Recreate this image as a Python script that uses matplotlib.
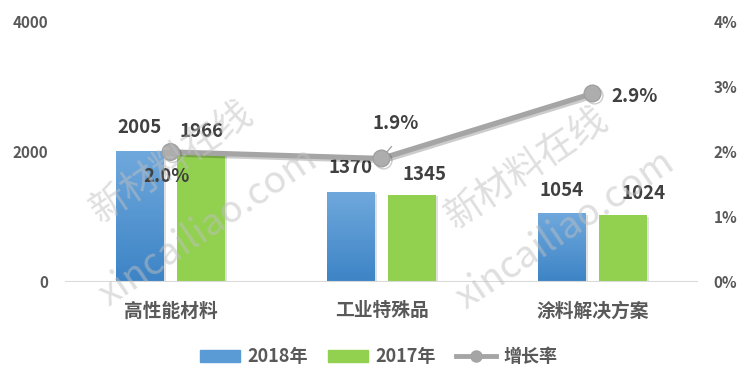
import numpy as np
import matplotlib
matplotlib.use('agg')
import matplotlib.pyplot as plt
from matplotlib import patheffects as pe
from matplotlib.patches import Patch
from matplotlib.lines import Line2D

plt.rcParams['font.family'] = ['Noto Sans CJK SC', 'DejaVu Sans']

categories = ['高性能材料', '工业特殊品', '涂料解决方案']
sales_2018 = [2005, 1370, 1054]
sales_2017 = [1966, 1345, 1024]
growth = [2.0, 1.9, 2.9]  # %
left_ticks = [0, 2000, 4000]
right_ticks = [0, 1, 2, 3, 4]

TICK_C = '#595959'
LABEL_C = '#404040'
BLUE = '#5b9bd5'
GREEN = '#92d050'
GRAY = '#a5a5a5'

fig = plt.figure(figsize=(7.5, 3.91), dpi=100)
ax = fig.add_axes([0.0867, 0.2788, 0.8440, 0.6650])
ax2 = ax.twinx()

x = np.arange(len(categories))
off = 0.145
w = 0.225
shadow = [pe.SimplePatchShadow(offset=(1.5, -1), alpha=0.12, shadow_rgbFace='#000000'), pe.Normal()]

b18 = ax.bar(x - off, sales_2018, w, color=BLUE, zorder=2, path_effects=shadow)
b17 = ax.bar(x + off, sales_2017, w, color=GREEN, zorder=2, path_effects=shadow)

# 蓝色柱子渐变
grad = np.linspace(0, 1, 100).reshape(-1, 1)
cmap = matplotlib.colors.LinearSegmentedColormap.from_list('b', ['#3d84c6', '#6fa8dc'])
for rect in b18:
    x0, h = rect.get_x(), rect.get_height()
    ax.imshow(grad, extent=[x0, x0 + rect.get_width(), 0, h], origin='lower',
              aspect='auto', cmap=cmap, zorder=3)

ax.set_xlim(-0.5, 2.5)
ax.set_ylim(0, 4000)
ax2.set_ylim(0, 4)

for a in (ax, ax2):
    for s in a.spines.values():
        s.set_visible(False)
ax.axhline(0, color='#d9d9d9', lw=1.5, zorder=4)

ax.set_yticks(left_ticks)
ax.set_yticklabels([str(t) for t in left_ticks])
ax2.set_yticks(right_ticks)
ax2.set_yticklabels([f'{t}%' for t in right_ticks])
ax.set_xticks(x)
ax.set_xticklabels(categories)
ax.tick_params(axis='y', length=0, pad=12, labelsize=11, labelcolor=TICK_C)
ax2.tick_params(axis='y', length=0, pad=11, labelsize=11, labelcolor=TICK_C)
ax.tick_params(axis='x', length=0, pad=14, labelsize=13.5, labelcolor=TICK_C)
for t in ax.get_yticklabels() + ax2.get_yticklabels() + ax.get_xticklabels():
    t.set_fontweight('bold')

# 增长率折线
line_fx = [pe.SimpleLineShadow(offset=(1.5, -1.5), alpha=0.2), pe.Normal()]
ax2.plot(x, growth, color=GRAY, lw=3.8, marker='o', ms=12, mfc='#adadad', mec='#a0a0a0',
         mew=1, zorder=5, solid_capstyle='round', path_effects=line_fx)

# 数据标签（偏移单位：像素）
px = 0.72
off18 = [(0, 24), (0, 25), (0, 23)]
off17 = [(0, 23), (12, 20), (20, 22)]
offg = [(-4, -25), (14, 35), (42, -3)]
lab = dict(ha='center', va='center', fontsize=13.5, fontweight='bold',
           color=LABEL_C, textcoords='offset points', zorder=6)
for i in range(len(categories)):
    ax.annotate(str(sales_2018[i]), (x[i] - off, sales_2018[i]),
                xytext=(off18[i][0] * px, off18[i][1] * px), **lab)
    ax.annotate(str(sales_2017[i]), (x[i] + off, sales_2017[i]),
                xytext=(off17[i][0] * px, off17[i][1] * px), **lab)
    ax2.annotate(f'{growth[i]:.1f}%', (x[i], growth[i]),
                 xytext=(offg[i][0] * px, offg[i][1] * px), **lab)
# 1.9% 引导线
ax2.annotate('', (x[1], growth[1]), xytext=(10 * px, 12 * px),
             textcoords='offset points',
             arrowprops=dict(arrowstyle='-', color=GRAY, lw=1, shrinkA=0, shrinkB=6))

handles = [Patch(color=BLUE), Patch(color=GREEN),
           Line2D([], [], color=GRAY, lw=3.5, marker='o', ms=8)]
leg = fig.legend(handles, ['2018年', '2017年', '增长率'], loc='center',
                 bbox_to_anchor=(0.505, 0.087), ncol=3, frameon=False,
                 handlelength=2.2, handleheight=0.6, handletextpad=0.4,
                 columnspacing=1.15, prop={'size': 13, 'weight': 'bold'})
for t in leg.get_texts():
    t.set_color(TICK_C)

# 水印
wm = dict(rotation=34, ha='center', va='center', color='#c0c0c0', alpha=0.5,
          rotation_mode='anchor', zorder=10)
for cx, cy in [(172, 162), (527, 168)]:
    fig.text(cx / 750, 1 - cy / 391, '新材料在线', fontsize=27, **wm)
for cx, cy in [(208, 227), (565, 230)]:
    fig.text(cx / 750, 1 - cy / 391, 'xincailiao.com', fontsize=27, **wm)

fig.savefig('out.png', dpi=100)
